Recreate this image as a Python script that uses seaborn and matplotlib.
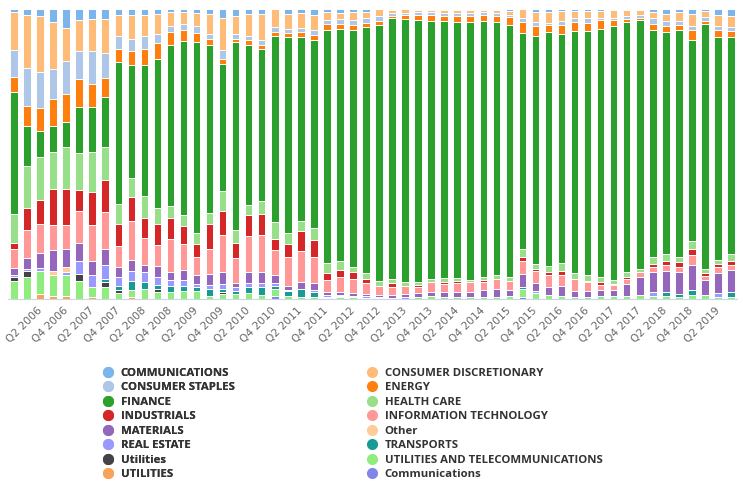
import pandas as pd
import matplotlib.pyplot as plt
from matplotlib.lines import Line2D
import seaborn as sns

quarters = ["Q4 2005", "Q1 2006", "Q2 2006", "Q3 2006", "Q4 2006", "Q1 2007", "Q2 2007",
            "Q3 2007", "Q4 2007", "Q1 2008", "Q2 2008", "Q3 2008", "Q4 2008", "Q1 2009",
            "Q2 2009", "Q3 2009", "Q4 2009", "Q1 2010", "Q2 2010", "Q3 2010", "Q4 2010",
            "Q1 2011", "Q2 2011", "Q3 2011", "Q4 2011", "Q1 2012", "Q2 2012", "Q3 2012",
            "Q4 2012", "Q1 2013", "Q2 2013", "Q3 2013", "Q4 2013", "Q1 2014", "Q2 2014",
            "Q3 2014", "Q4 2014", "Q1 2015", "Q2 2015", "Q3 2015", "Q4 2015", "Q1 2016",
            "Q2 2016", "Q3 2016", "Q4 2016", "Q1 2017", "Q2 2017", "Q3 2017", "Q4 2017",
            "Q1 2018", "Q2 2018", "Q3 2018", "Q4 2018", "Q1 2019", "Q2 2019", "Q3 2019"]

# share of each sector per quarter (relative units)
comm = [8, 17, 20, 40, 57, 34, 29, 29, 17, 17, 17, 14, 10, 10,
        12, 14, 27, 20, 14, 14, 0, 15, 12, 17, 10, 12, 10, 8,
        0, 4, 0, 4, 4, 3, 3, 3, 4, 4, 7, 0, 10, 10,
        7, 7, 7, 7, 4, 4, 4, 10, 14, 10, 14, 7, 17, 20]
cons_disc = [116, 160, 167, 139, 98, 93, 96, 103, 63, 73, 65, 60, 40, 34,
             38, 60, 95, 55, 68, 78, 54, 45, 45, 47, 24, 18, 24, 19,
             20, 8, 12, 6, 6, 10, 10, 10, 6, 8, 10, 27, 30, 32,
             30, 20, 20, 20, 23, 16, 13, 17, 23, 27, 36, 17, 33, 34]
cons_staples = [78, 113, 110, 89, 99, 82, 99, 75, 39, 37, 37, 28, 20, 20,
                22, 16, 27, 15, 10, 17, 15, 12, 12, 13, 10, 14, 15, 15,
                17, 8, 5, 7, 7, 7, 7, 7, 7, 8, 7, 13, 12, 5,
                10, 13, 15, 7, 7, 10, 10, 17, 15, 10, 14, 13, 14, 13]
energy = [45, 59, 67, 81, 83, 85, 68, 55, 38, 40, 48, 47, 39, 33,
          27, 17, 15, 10, 15, 10, 13, 12, 15, 17, 20, 16, 13, 12,
          10, 7, 13, 17, 20, 17, 20, 20, 20, 20, 25, 32, 30, 23,
          28, 27, 25, 25, 18, 8, 7, 18, 18, 15, 30, 7, 20, 17]
finance = [365, 121, 78, 80, 77, 138, 137, 152, 427, 337, 392, 445, 481, 520,
           570, 502, 380, 562, 480, 456, 555, 585, 551, 560, 695, 694, 710, 736,
           768, 780, 787, 783, 770, 770, 767, 773, 765, 754, 751, 645, 680, 697,
           685, 723, 727, 743, 758, 749, 743, 680, 662, 680, 600, 733, 666, 648]
health = [88, 124, 130, 108, 123, 108, 118, 98, 58, 58, 65, 50, 34, 33,
          33, 35, 60, 37, 28, 37, 50, 33, 29, 38, 31, 26, 15, 17,
          15, 13, 10, 7, 10, 13, 8, 7, 8, 13, 12, 23, 15, 20,
          24, 17, 18, 15, 12, 15, 10, 20, 20, 15, 23, 13, 12, 22]
industrials = [18, 66, 72, 110, 110, 65, 98, 95, 67, 72, 61, 63, 64, 52,
               40, 73, 73, 46, 65, 63, 33, 40, 60, 50, 20, 20, 20, 13,
               0, 10, 0, 6, 0, 5, 8, 0, 7, 0, 0, 14, 5, 7,
               10, 0, 5, 7, 3, 5, 0, 8, 12, 13, 17, 8, 10, 10]
info_tech = [57, 85, 85, 73, 70, 95, 107, 110, 63, 115, 80, 62, 99, 78,
             53, 75, 108, 75, 107, 112, 75, 85, 93, 77, 37, 47, 43, 32,
             27, 25, 25, 20, 30, 25, 27, 28, 23, 31, 28, 38, 38, 38,
             33, 37, 27, 16, 15, 15, 15, 15, 18, 17, 30, 12, 18, 16]
materials = [20, 32, 46, 64, 55, 54, 42, 47, 28, 35, 22, 33, 23, 30,
             27, 33, 37, 12, 33, 33, 25, 13, 20, 21, 7, 7, 8, 7,
             7, 9, 10, 12, 11, 15, 15, 17, 22, 22, 17, 38, 22, 22,
             32, 18, 16, 19, 19, 37, 52, 62, 63, 65, 76, 44, 60, 67]
other = [0, 0, 0, 10, 15, 0, 0, 0, 0, 0, 0, 0, 0, 0,
         0, 0, 0, 0, 0, 0, 0, 0, 0, 0, 0, 0, 0, 0,
         0, 0, 0, 0, 0, 0, 0, 0, 0, 0, 0, 0, 0, 0,
         0, 0, 0, 0, 0, 0, 0, 0, 0, 0, 0, 0, 0, 0]
real_estate = [5, 7, 9, 0, 7, 38, 38, 43, 27, 28, 28, 22, 17, 19,
               10, 12, 15, 10, 10, 12, 7, 4, 0, 7, 6, 4, 4, 4,
               3, 0, 5, 0, 0, 0, 0, 0, 0, 0, 0, 0, 8, 0,
               0, 0, 0, 0, 0, 0, 0, 10, 0, 0, 0, 0, 10, 0]
transports = [0, 0, 0, 0, 0, 0, 0, 10, 13, 28, 22, 13, 20, 13,
              12, 20, 8, 10, 20, 22, 10, 13, 25, 13, 4, 4, 0, 0,
              0, 0, 0, 0, 0, 0, 0, 0, 0, 0, 0, 8, 0, 0,
              0, 0, 0, 0, 0, 0, 0, 0, 12, 10, 14, 0, 0, 13]
utilities_mixed = [14, 16, 0, 0, 0, 20, 0, 13, 10, 0, 0, 8, 0, 0,
                   0, 0, 7, 0, 0, 0, 0, 0, 0, 0, 0, 0, 0, 0,
                   0, 0, 0, 0, 0, 0, 0, 0, 0, 0, 0, 0, 0, 0,
                   0, 0, 0, 0, 0, 0, 0, 0, 0, 0, 0, 0, 0, 0]
util_telecom = [53, 67, 68, 63, 63, 55, 28, 37, 17, 20, 30, 22, 20, 25,
                23, 10, 15, 15, 17, 13, 20, 10, 5, 7, 3, 5, 5, 4,
                3, 3, 0, 5, 9, 5, 5, 5, 5, 7, 10, 22, 17, 13,
                8, 5, 7, 8, 8, 8, 13, 10, 10, 5, 13, 13, 7, 7]
utilities = [0, 0, 15, 10, 10, 0, 7, 0, 0, 7, 0, 0, 0, 0,
             0, 0, 0, 0, 0, 0, 0, 0, 0, 0, 0, 0, 0, 0,
             0, 0, 0, 0, 0, 0, 0, 0, 0, 0, 0, 0, 0, 0,
             0, 0, 0, 0, 0, 0, 0, 0, 0, 0, 0, 0, 0, 0]
comm_mixed = [0, 0, 0, 0, 0, 0, 0, 0, 0, 0, 0, 0, 0, 0,
              0, 0, 0, 0, 0, 0, 10, 0, 0, 0, 0, 0, 0, 0,
              0, 0, 0, 0, 0, 0, 0, 0, 0, 0, 0, 7, 0, 0,
              0, 0, 0, 0, 0, 0, 0, 0, 0, 0, 0, 0, 0, 0]

sectors = ["COMMUNICATIONS", "CONSUMER DISCRETIONARY", "CONSUMER STAPLES", "ENERGY",
           "FINANCE", "HEALTH CARE", "INDUSTRIALS", "INFORMATION TECHNOLOGY",
           "MATERIALS", "Other", "REAL ESTATE", "TRANSPORTS", "Utilities",
           "UTILITIES AND TELECOMMUNICATIONS", "UTILITIES", "Communications"]
colors = ["#7cb5ec", "#ffbb78", "#aec7e8", "#ff7f0e", "#2ca02c", "#98df8a", "#d62728",
          "#ff9896", "#9467bd", "#ffcc99", "#9999ff", "#1a9a94", "#434348",
          "#90ed7d", "#f7a35c", "#8085e9"]

shares = pd.DataFrame({
    "COMMUNICATIONS": comm, "CONSUMER DISCRETIONARY": cons_disc,
    "CONSUMER STAPLES": cons_staples, "ENERGY": energy, "FINANCE": finance,
    "HEALTH CARE": health, "INDUSTRIALS": industrials,
    "INFORMATION TECHNOLOGY": info_tech, "MATERIALS": materials, "Other": other,
    "REAL ESTATE": real_estate, "TRANSPORTS": transports, "Utilities": utilities_mixed,
    "UTILITIES AND TELECOMMUNICATIONS": util_telecom, "UTILITIES": utilities,
    "Communications": comm_mixed,
}, index=quarters)
df = shares.reset_index(names="quarter").melt(id_vars="quarter", var_name="sector",
                                              value_name="share")
df["quarter"] = pd.Categorical(df["quarter"], categories=quarters, ordered=True)

sns.set_style("white")
plt.rcParams["font.family"] = ["DejaVu Sans"]

fig = plt.figure(figsize=(7.43, 4.90), dpi=100)
ax = fig.add_axes([7.5 / 743, 1 - 299 / 490, 730 / 743, 290 / 490])

# percent stacking, first sector ends up on top
sns.histplot(data=df, x="quarter", weights="share", hue="sector", hue_order=sectors,
             palette=colors, multiple="fill", discrete=True, shrink=0.58,
             edgecolor="white", linewidth=0.7, alpha=1, legend=False, ax=ax)

ax.set_xlim(-0.5, len(quarters) - 0.5)
ax.set_ylim(0, 1)
ax.set_yticks([])
ax.set_ylabel("")
ax.set_xlabel("")
for s in ["left", "top", "right"]:
    ax.spines[s].set_visible(False)
ax.spines["bottom"].set_color("#ccd6eb")
ax.set_xticks(range(2, len(quarters), 2))
ax.set_xticklabels(quarters[2::2], rotation=45, ha="right", va="center",
                   rotation_mode="anchor", color="#666666", fontsize=7.7)
ax.tick_params(axis="x", length=0, pad=7)

# legend: two columns, items read left-to-right
handles = [Line2D([], [], marker="o", linestyle="", markersize=7,
                  markerfacecolor=c, markeredgecolor=c) for c in colors]
leg_kw = dict(frameon=False, loc="upper left", handlelength=0.8,
              handletextpad=0.75, labelspacing=0.3, borderpad=0, borderaxespad=0,
              labelcolor="#333333",
              prop={"family": "Open Sans", "weight": "bold", "size": 8.2})
left = fig.legend(handles[0::2], sectors[0::2], bbox_to_anchor=(103 / 743, 1 - 368 / 490),
                  **leg_kw)
fig.add_artist(left)
fig.legend(handles[1::2], sectors[1::2], bbox_to_anchor=(367 / 743, 1 - 368 / 490), **leg_kw)

plt.savefig("out.png", dpi=100)
